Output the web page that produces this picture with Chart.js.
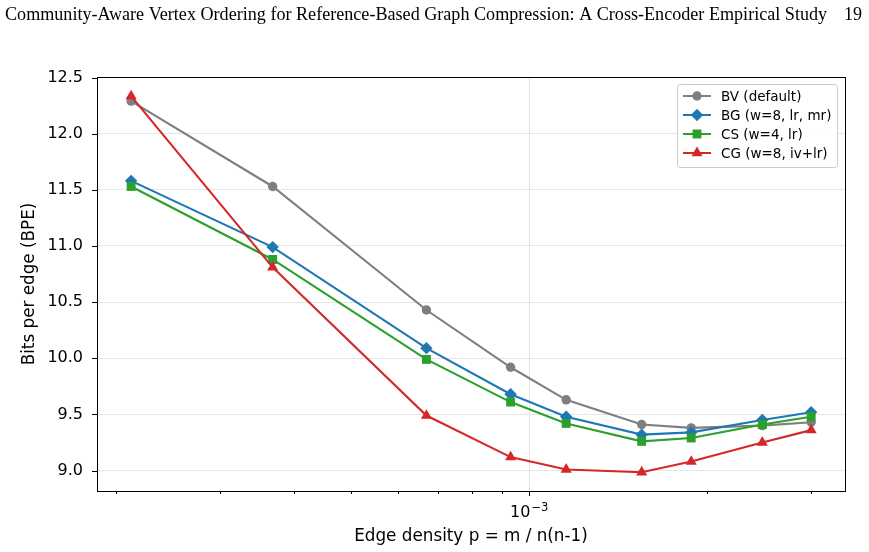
<!DOCTYPE html>
<html>
<head>
<meta charset="utf-8">
<script src="https://cdn.jsdelivr.net/npm/chart.js@4.4.1/dist/chart.umd.min.js"></script>
<style>
  html, body { margin: 0; padding: 0; background: #fff; }
  #wrap { position: relative; width: 869px; height: 552px; }
</style>
</head>
<body>
<div id="wrap"><canvas id="bpeChart" width="869" height="552"></canvas></div>
<script>
// 数据
const density = [2.12e-4, 3.68e-4, 6.7e-4, 9.3e-4, 1.155e-3, 1.55e-3, 1.88e-3, 2.48e-3, 3.0e-3];
const bvBpe = [12.29, 11.53, 10.43, 9.92, 9.63, 9.41, 9.38, 9.40, 9.43];
const bgBpe = [11.58, 10.99, 10.09, 9.68, 9.48, 9.32, 9.34, 9.45, 9.52];
const csBpe = [11.53, 10.88, 9.99, 9.61, 9.42, 9.26, 9.29, 9.41, 9.48];
const cgBpe = [12.335, 10.81, 9.49, 9.12, 9.01, 8.985, 9.08, 9.25, 9.36];

const yTicks = [9.0, 9.5, 10.0, 10.5, 11.0, 11.5, 12.0, 12.5];
const xTicks = [2e-4, 3e-4, 4e-4, 5e-4, 6e-4, 7e-4, 8e-4, 9e-4, 1e-3, 2e-3, 3e-3];
const xMajor = 1e-3;
const xMajorLabel = ['10', '\u22123'];

const headerText = 'Community-Aware Vertex Ordering for Reference-Based Graph Compression: A Cross-Encoder Empirical Study';
const pageNo = '19';

function pts(ys) {
    return density.map((x, i) => ({ x: x, y: ys[i] }));
}

const FONT = 'DejaVu Sans';

// 自定义绘制：页眉、边框、刻度线、10^-3 标签、图例
const decorPlugin = {
    id: 'decor',
    afterDraw(chart) {
        const ctx = chart.ctx;
        const a = chart.chartArea;
        const xs = chart.scales.x, ys = chart.scales.y;
        ctx.save();

        // header
        ctx.fillStyle = '#000';
        ctx.textBaseline = 'alphabetic';
        ctx.textAlign = 'left';
        ctx.font = '17px "Liberation Serif"';
        let w = ctx.measureText(headerText).width;
        const size = 17 * 823 / w;
        ctx.font = size.toFixed(2) + 'px "Liberation Serif"';
        ctx.fillText(headerText, 5, 20);
        ctx.textAlign = 'right';
        ctx.fillText(pageNo, 862, 20);

        // box
        ctx.strokeStyle = '#000';
        ctx.lineWidth = 1;
        ctx.strokeRect(Math.round(a.left) + 0.5, Math.round(a.top) + 0.5,
            Math.round(a.right - a.left), Math.round(a.bottom - a.top));

        // ticks
        ctx.beginPath();
        yTicks.forEach(v => {
            const y = Math.round(ys.getPixelForValue(v)) + 0.5;
            ctx.moveTo(a.left, y);
            ctx.lineTo(a.left - 5, y);
        });
        xTicks.forEach(v => {
            const x = Math.round(xs.getPixelForValue(v)) + 0.5;
            const len = v === xMajor ? 5 : 3;
            ctx.moveTo(x, a.bottom);
            ctx.lineTo(x, a.bottom + len);
        });
        ctx.stroke();

        // 10^-3 label
        const mx = xs.getPixelForValue(xMajor);
        ctx.textAlign = 'left';
        ctx.font = '16px "' + FONT + '"';
        const w1 = ctx.measureText(xMajorLabel[0]).width;
        ctx.font = '11.5px "' + FONT + '"';
        const w2 = ctx.measureText(xMajorLabel[1]).width;
        const x0 = mx - (w1 + w2 + 1) / 2;
        ctx.font = '16px "' + FONT + '"';
        ctx.fillText(xMajorLabel[0], x0, a.bottom + 26);
        ctx.font = '11.5px "' + FONT + '"';
        ctx.fillText(xMajorLabel[1], x0 + w1 + 1, a.bottom + 19.5);

        // legend
        const bx = a.right - 168, by = a.top + 7, bw = 160, bh = 83;
        ctx.fillStyle = 'rgba(255,255,255,0.85)';
        ctx.strokeStyle = '#cccccc';
        ctx.lineWidth = 1;
        ctx.beginPath();
        ctx.roundRect(bx + 0.5, by + 0.5, bw, bh, 3);
        ctx.fill();
        ctx.stroke();
        ctx.font = '13.5px "' + FONT + '"';
        ctx.textAlign = 'left';
        ctx.textBaseline = 'middle';
        chart.data.datasets.forEach((ds, i) => {
            const ry = by + 12 + i * 19;
            ctx.strokeStyle = ds.borderColor;
            ctx.lineWidth = 2;
            ctx.beginPath();
            ctx.moveTo(bx + 6, ry);
            ctx.lineTo(bx + 34, ry);
            ctx.stroke();
            ctx.fillStyle = ds.backgroundColor;
            Chart.helpers.drawPoint(ctx, {
                pointStyle: ds.pointStyle, radius: ds.pointRadius, rotation: 0, borderWidth: 0
            }, bx + 20, ry);
            ctx.fillStyle = '#000';
            ctx.fillText(ds.label, bx + 44, ry + 1);
        });
        ctx.restore();
    }
};

function makeSet(label, ys, color, style, r, order) {
    return {
        label: label,
        data: pts(ys),
        borderColor: color,
        backgroundColor: color,
        borderWidth: 2.1,
        pointStyle: style,
        pointRadius: r,
        pointBorderWidth: 0,
        pointHoverRadius: r,
        tension: 0,
        order: order
    };
}

function initChart() {
    const ctx = document.getElementById('bpeChart').getContext('2d');
    new Chart(ctx, {
        type: 'line',
        data: {
            datasets: [
                makeSet('BV (default)', bvBpe, '#7f7f7f', 'circle', 4.7, 4),
                makeSet('BG (w=8, lr, mr)', bgBpe, '#1f77b4', 'rectRot', 6.2, 3),
                makeSet('CS (w=4, lr)', csBpe, '#2ca02c', 'rect', 6.3, 2),
                makeSet('CG (w=8, iv+lr)', cgBpe, '#d62728', 'triangle', 6.4, 1)
            ]
        },
        options: {
            responsive: false,
            animation: false,
            layout: { padding: { top: 77, right: 24, left: 0, bottom: 0 } },
            plugins: {
                legend: { display: false },
                tooltip: { enabled: false }
            },
            scales: {
                x: {
                    type: 'logarithmic',
                    min: 1.856e-4,
                    max: 3.423e-3,
                    afterFit(scale) { scale.height = 61; },
                    afterBuildTicks(scale) {
                        scale.ticks = xTicks.map(v => ({ value: v, major: v === xMajor }));
                    },
                    border: { display: false },
                    grid: {
                        drawTicks: false,
                        lineWidth: 1,
                        color: c => (c.tick && c.tick.value === xMajor) ? '#e3e3e3' : 'rgba(0,0,0,0)'
                    },
                    ticks: {
                        autoSkip: false,
                        maxRotation: 0,
                        padding: 9,
                        color: '#000',
                        font: { family: FONT, size: 16 },
                        callback: () => ''
                    },
                    title: {
                        display: true,
                        text: 'Edge density p = m / n(n-1)',
                        color: '#000',
                        font: { family: FONT, size: 16.8 },
                        padding: { top: 0, bottom: 5 }
                    }
                },
                y: {
                    min: 8.818,
                    max: 12.505,
                    afterFit(scale) { scale.width = 97; },
                    afterBuildTicks(scale) {
                        scale.ticks = yTicks.map(v => ({ value: v }));
                    },
                    border: { display: false },
                    grid: { drawTicks: false, color: '#e6e6e6', lineWidth: 1 },
                    ticks: {
                        padding: 14,
                        color: '#000',
                        font: { family: FONT, size: 16 },
                        callback: v => Number(v).toFixed(1)
                    },
                    title: {
                        display: true,
                        text: 'Bits per edge (BPE)',
                        color: '#000',
                        font: { family: FONT, size: 16.8 },
                        padding: { top: 20, bottom: 0 }
                    }
                }
            }
        },
        plugins: [decorPlugin]
    });
}

document.addEventListener('DOMContentLoaded', initChart);
</script>
</body>
</html>
